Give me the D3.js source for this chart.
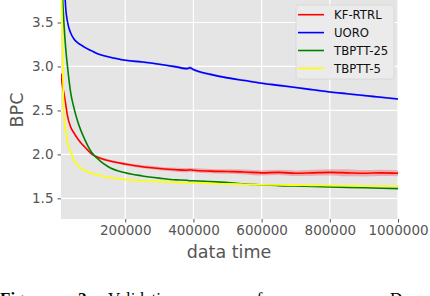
<!DOCTYPE html>
<html>
<head>
<meta charset="utf-8">
<script src="https://cdn.jsdelivr.net/npm/d3@7"></script>
<style>
body { margin: 0; background: #fff; }
svg { display: block; }
</style>
</head>
<body>
<div class="home"></div>
<script>
// validation curves, BPC vs data time
var xs = [11500, 15000, 20000, 25000, 30000, 40000, 50000, 60000, 70000, 80000, 100000, 125000, 150000, 200000, 250000, 300000, 350000, 380000, 390000, 400000, 450000, 500000, 550000, 600000, 650000, 700000, 750000, 800000, 850000, 900000, 950000, 1000000];

var kf_rtrl = [2.92, 2.80, 2.70, 2.58, 2.45, 2.31, 2.24, 2.18, 2.13, 2.09, 2.01, 1.96, 1.93, 1.89, 1.86, 1.84, 1.825, 1.82, 1.825, 1.82, 1.81, 1.805, 1.80, 1.79, 1.795, 1.785, 1.79, 1.795, 1.79, 1.785, 1.79, 1.785];
var uoro = [5.2, 4.6, 4.1, 3.68, 3.52, 3.38, 3.31, 3.27, 3.245, 3.22, 3.18, 3.135, 3.11, 3.07, 3.05, 3.025, 2.995, 2.975, 2.985, 2.965, 2.91, 2.87, 2.84, 2.81, 2.785, 2.76, 2.735, 2.71, 2.69, 2.67, 2.65, 2.63];
var tbptt25 = [4.3, 3.9, 3.5, 3.22, 3.02, 2.70, 2.52, 2.38, 2.27, 2.18, 2.03, 1.93, 1.86, 1.79, 1.755, 1.73, 1.71, 1.705, 1.70, 1.70, 1.69, 1.68, 1.665, 1.655, 1.645, 1.64, 1.635, 1.63, 1.625, 1.62, 1.615, 1.61];
var tbptt5 = [4.2, 3.4, 2.45, 2.28, 2.15, 2.03, 1.93, 1.88, 1.845, 1.82, 1.785, 1.76, 1.74, 1.715, 1.70, 1.69, 1.682, 1.678, 1.677, 1.677, 1.67, 1.665, 1.66, 1.655, 1.652, 1.65, 1.648, 1.645, 1.643, 1.64, 1.64, 1.64];
// half width of the shaded spread
var kf_spread = [0.01, 0.01, 0.01, 0.01, 0.01, 0.01, 0.012, 0.012, 0.012, 0.012, 0.012, 0.014, 0.014, 0.016, 0.018, 0.02, 0.022, 0.024, 0.024, 0.024, 0.025, 0.026, 0.028, 0.03, 0.03, 0.032, 0.034, 0.036, 0.04, 0.036, 0.036, 0.034];
var uoro_spread = [0.01, 0.01, 0.01, 0.01, 0.01, 0.01, 0.01, 0.01, 0.01, 0.01, 0.01, 0.01, 0.01, 0.012, 0.012, 0.012, 0.014, 0.016, 0.02, 0.016, 0.014, 0.012, 0.012, 0.012, 0.012, 0.012, 0.012, 0.012, 0.012, 0.012, 0.012, 0.012];

var names = ["KF-RTRL", "UORO", "TBPTT-25", "TBPTT-5"];
var colors = ["#ff0000", "#0000ff", "#008000", "#ffff00"];
var series = [kf_rtrl, uoro, tbptt25, tbptt5];
var spreads = [kf_spread, uoro_spread, null, null];

var xticks = [200000, 400000, 600000, 800000, 1000000];
var yticks = [1.5, 2.0, 2.5, 3.0, 3.5];

var W = 430, H = 296;
var pL = 61, pR = 398, pT = 0, pB = 219;

var svg = d3.select(".home").append("svg")
    .attr("width", W)
    .attr("height", H)

var x = d3.scaleLinear().domain([11500, 1000000]).range([pL, pR]);
var y = d3.scaleLinear().domain([1.265, 3.756]).range([pB, pT]);

svg.append("rect")
    .attr("x", pL).attr("y", pT)
    .attr("width", pR - pL).attr("height", pB - pT)
    .attr("fill", "#e5e5e5");

svg.append("defs").append("clipPath").attr("id", "clip")
    .append("rect")
    .attr("x", pL).attr("y", pT)
    .attr("width", pR - pL).attr("height", pB - pT);

// grid
svg.append("g").selectAll("line").data(xticks).enter().append("line")
    .attr("x1", d => x(d)).attr("x2", d => x(d))
    .attr("y1", pT).attr("y2", pB)
    .attr("stroke", "#fff").attr("stroke-width", 1.2);
svg.append("g").selectAll("line").data(yticks).enter().append("line")
    .attr("x1", pL).attr("x2", pR)
    .attr("y1", d => y(d)).attr("y2", d => y(d))
    .attr("stroke", "#fff").attr("stroke-width", 1.2);

// axes
var xAxis = svg.append("g")
    .attr("transform", "translate(0," + pB + ")")
    .call(d3.axisBottom(x).tickValues(xticks).tickFormat(d3.format("d")).tickSizeOuter(0).tickSize(3.5).tickPadding(3));
var yAxis = svg.append("g")
    .attr("transform", "translate(" + pL + ",0)")
    .call(d3.axisLeft(y).tickValues(yticks).tickFormat(d3.format(".1f")).tickSizeOuter(0).tickSize(3.5).tickPadding(4));
[xAxis, yAxis].forEach(function (a) {
    a.select(".domain").remove();
    a.selectAll(".tick line").attr("stroke", "#555").attr("stroke-width", 1);
    a.selectAll(".tick text")
        .attr("fill", "#555")
        .style("font-family", "DejaVu Sans")
        .style("font-size", "13.5px");
});

var plot = svg.append("g").attr("clip-path", "url(#clip)");

var line = d3.line().curve(d3.curveMonotoneX);
var area = d3.area().curve(d3.curveMonotoneX);

for (var i = 0; i < series.length; i++) {
    var vals = series[i];
    if (spreads[i]) {
        var sp = spreads[i];
        plot.append("path")
            .datum(xs)
            .attr("d", area.x(d => x(d))
                .y0((d, j) => y(vals[j] - sp[j]))
                .y1((d, j) => y(vals[j] + sp[j])))
            .attr("fill", colors[i])
            .attr("opacity", 0.25);
    }
    plot.append("path")
        .datum(xs)
        .attr("d", line.x(d => x(d)).y((d, j) => y(vals[j])))
        .attr("fill", "none")
        .attr("stroke", colors[i])
        .attr("stroke-width", 1.6);
}

// legend
var lg = svg.append("g");
lg.append("rect")
    .attr("x", 296).attr("y", 5)
    .attr("width", 98).attr("height", 74)
    .attr("rx", 2)
    .attr("fill", "#ebebeb")
    .attr("stroke", "#d6d6d6")
    .attr("stroke-width", 0.8);
var rows = lg.selectAll("g.row").data(names).enter().append("g")
    .attr("transform", (d, i) => "translate(0," + (14.7 + i * 17.9) + ")");
rows.append("line")
    .attr("x1", 298).attr("x2", 324)
    .attr("stroke", (d, i) => colors[i])
    .attr("stroke-width", 1.6);
rows.append("text")
    .attr("x", 334).attr("dy", "0.36em")
    .text(d => d)
    .style("font-family", "DejaVu Sans")
    .style("font-size", "11.7px")
    .attr("fill", "#111");

// axis labels
svg.append("text")
    .attr("x", 229).attr("y", 258)
    .attr("text-anchor", "middle")
    .text("data time")
    .style("font-family", "DejaVu Sans")
    .style("font-size", "17.5px")
    .attr("fill", "#555");
svg.append("text")
    .attr("transform", "translate(23,110) rotate(-90)")
    .attr("text-anchor", "middle")
    .text("BPC")
    .style("font-family", "DejaVu Sans")
    .style("font-size", "17.5px")
    .attr("fill", "#555");

// caption, cut off by the page edge
var cap = svg.append("text")
    .attr("y", 304)
    .style("font-family", "Liberation Serif")
    .style("font-size", "17px")
    .attr("fill", "#000");
cap.append("tspan").attr("x", 0).attr("font-weight", "bold").text("Figure");
cap.append("tspan").attr("x", 78).attr("font-weight", "bold").text("2:");
cap.append("tspan").attr("x", 108).text("Validation");
cap.append("tspan").attr("x", 235).text("performance");
cap.append("tspan").attr("x", 340).text("on a");
cap.append("tspan").attr("x", 390).text("D");
</script>
</body>
</html>
